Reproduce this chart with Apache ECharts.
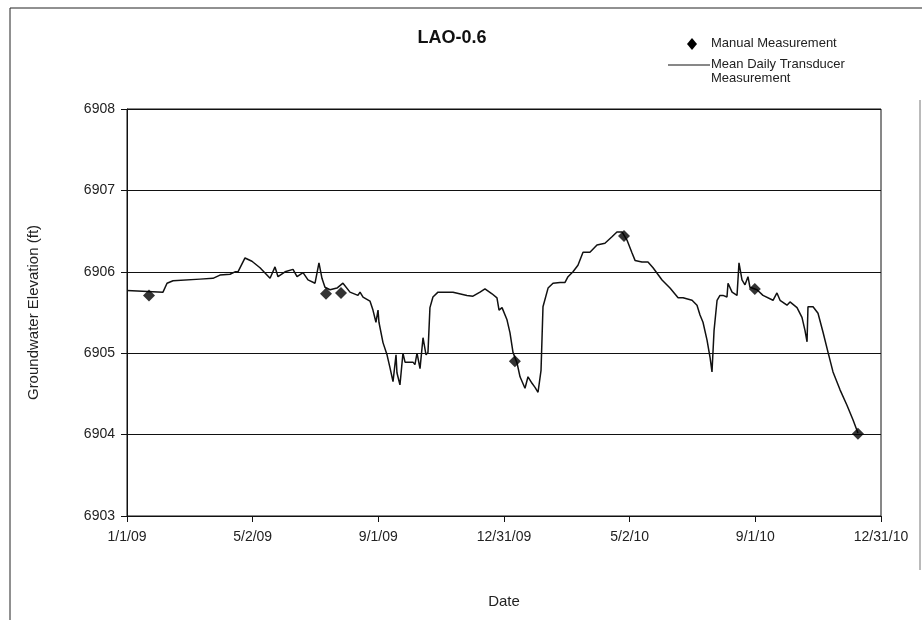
<!DOCTYPE html>
<html>
<head>
<meta charset="utf-8">
<style>html,body{margin:0;padding:0;background:#fff;}#c{width:922px;height:620px;}</style>
<script src="https://cdn.jsdelivr.net/npm/echarts@6/dist/echarts.min.js"></script>
</head>
<body>
<div id="c"></div>
<script>
// Days since 1/1/2009
const xTickLabels = ['1/1/09','5/2/09','9/1/09','12/31/09','5/2/10','9/1/10','12/31/10'];
const transducerDays = [0,34.8,38.7,44.5,70.6,83.1,89.9,99.6,104.4,107.3,114.1,120.8,128.6,138.3,143.1,146.0,152.8,160.5,164.4,170.2,175.0,181.8,185.6,188.5,191.4,196.3,203.0,208.8,215.6,223.3,225.3,228.2,234.9,237.8,240.7,242.7,243.6,247.5,251.4,254.3,257.2,260.1,261.0,263.9,266.8,268.8,276.5,278.4,280.4,283.3,286.2,289.1,291.0,292.9,295.8,300.7,315.2,328.7,334.5,341.3,346.1,352.9,357.7,359.7,362.6,367.4,370.3,373.2,377.1,380.0,384.8,387.7,391.6,394.5,397.4,400.3,402.2,407.1,411.9,418.7,423.5,426.4,431.2,436.0,440.9,447.6,454.4,462.1,468.9,473.7,478.6,483.4,488.3,491.2,497.9,503.7,508.6,517.3,525.0,532.8,537.6,546.3,551.1,554.0,556.9,560.8,563.7,565.6,567.6,570.5,573.3,576.2,580.1,581.1,585.0,589.8,591.7,594.6,597.5,600.4,602.3,609.1,614.9,624.6,628.4,631.4,638.1,641.0,647.8,652.6,655.5,657.5,658.4,663.3,668.1,672.9,677.8,682.6,689.4,696.1,702.0,706.7];
const transducerElev = [6905.77,6905.75,6905.86,6905.89,6905.91,6905.92,6905.96,6905.97,6906.00,6906.00,6906.17,6906.13,6906.05,6905.92,6906.06,6905.94,6906.00,6906.03,6905.94,6905.99,6905.90,6905.86,6906.11,6905.92,6905.81,6905.78,6905.80,6905.86,6905.75,6905.71,6905.75,6905.69,6905.64,6905.53,6905.38,6905.53,6905.38,6905.13,6904.98,6904.82,6904.65,6904.98,6904.76,6904.61,6905.00,6904.89,6904.89,6904.86,6905.00,6904.81,6905.19,6904.98,6905.01,6905.56,6905.69,6905.75,6905.75,6905.71,6905.70,6905.75,6905.79,6905.73,6905.68,6905.53,6905.56,6905.41,6905.25,6905.01,6904.88,6904.71,6904.57,6904.71,6904.63,6904.58,6904.52,6904.79,6905.57,6905.80,6905.86,6905.87,6905.87,6905.94,6906.00,6906.08,6906.24,6906.24,6906.33,6906.35,6906.43,6906.49,6906.49,6906.39,6906.23,6906.14,6906.12,6906.12,6906.05,6905.90,6905.80,6905.68,6905.68,6905.65,6905.59,6905.47,6905.38,6905.16,6904.95,6904.77,6905.28,6905.65,6905.71,6905.71,6905.69,6905.86,6905.75,6905.71,6906.11,6905.90,6905.84,6905.94,6905.81,6905.78,6905.71,6905.65,6905.74,6905.65,6905.59,6905.63,6905.56,6905.44,6905.28,6905.14,6905.57,6905.57,6905.49,6905.26,6905.01,6904.77,6904.55,6904.36,6904.18,6904.02];
const manualDays = [21.3,192.4,206.9,375.0,480.5,607.0,706.7];
const manualElev = [6905.71,6905.73,6905.74,6904.90,6906.44,6905.79,6904.01];

const FONT = 'Liberation Sans, Arial, sans-serif';
const chart = echarts.init(document.getElementById('c'), null, {renderer:'canvas'});
chart.setOption({
  backgroundColor:'#fff',
  animation:false,
  title:{text:'LAO-0.6', left:447, top:24, textAlign:'center',
    textStyle:{fontFamily:FONT, fontSize:18, fontWeight:'bold', color:'#111'}},
  grid:{left:127, top:109, right:41, bottom:104, show:true, borderColor:'#111', borderWidth:1, backgroundColor:'transparent'},
  xAxis:{type:'value', min:0, max:729, interval:121.5,
    name:'Date', nameLocation:'middle', nameGap:78,
    nameTextStyle:{fontFamily:FONT, fontSize:15, color:'#222'},
    axisLine:{lineStyle:{color:'#111', width:1}},
    axisTick:{show:true, length:6, lineStyle:{color:'#111'}},
    axisLabel:{margin:14, fontFamily:FONT, fontSize:14, color:'#222',
      formatter:function(v){return xTickLabels[Math.round(v/121.5)];}},
    splitLine:{show:false}},
  yAxis:{type:'value', min:6903, max:6908, interval:1,
    name:'Groundwater Elevation (ft)', nameLocation:'middle', nameGap:86, nameRotate:90,
    nameTextStyle:{fontFamily:FONT, fontSize:15, color:'#222'},
    axisLine:{show:true, lineStyle:{color:'#111', width:1}},
    axisTick:{show:true, length:6, lineStyle:{color:'#111'}},
    axisLabel:{margin:12, fontFamily:FONT, fontSize:14, color:'#222',
      formatter:function(v){return String(v);}},
    splitLine:{show:true, lineStyle:{color:'#111', width:1}}},
  series:[
    {name:'Mean Daily Transducer Measurement', type:'line', symbol:'none', sampling:null,
      lineStyle:{color:'#111', width:1.5},
      data:transducerDays.map((d,i)=>[d, transducerElev[i]]), z:3},
    {name:'Manual Measurement', type:'scatter', symbol:'diamond', symbolSize:12,
      itemStyle:{color:'#000'},
      data:manualDays.map((d,i)=>[d, manualElev[i]]), z:4}
  ],
  graphic:[
    {type:'line', shape:{x1:10,y1:8,x2:922,y2:8}, style:{stroke:'#222', lineWidth:1}},
    {type:'line', shape:{x1:10,y1:8,x2:10,y2:620}, style:{stroke:'#222', lineWidth:1}},
    {type:'line', shape:{x1:920,y1:100,x2:920,y2:570}, style:{stroke:'#777', lineWidth:1}},
    {type:'polygon', shape:{points:[[692,38],[697,44],[692,50],[687,44]]}, style:{fill:'#000'}},
    {type:'text', left:711, top:37, style:{text:'Manual Measurement', font:'13px '+FONT, fill:'#222'}},
    {type:'line', shape:{x1:668,y1:65,x2:710,y2:65}, style:{stroke:'#111', lineWidth:1}},
    {type:'text', left:711, top:57, style:{text:'Mean Daily Transducer\nMeasurement', font:'13px '+FONT, fill:'#222', lineHeight:14}}
  ]
});
</script>
</body>
</html>
